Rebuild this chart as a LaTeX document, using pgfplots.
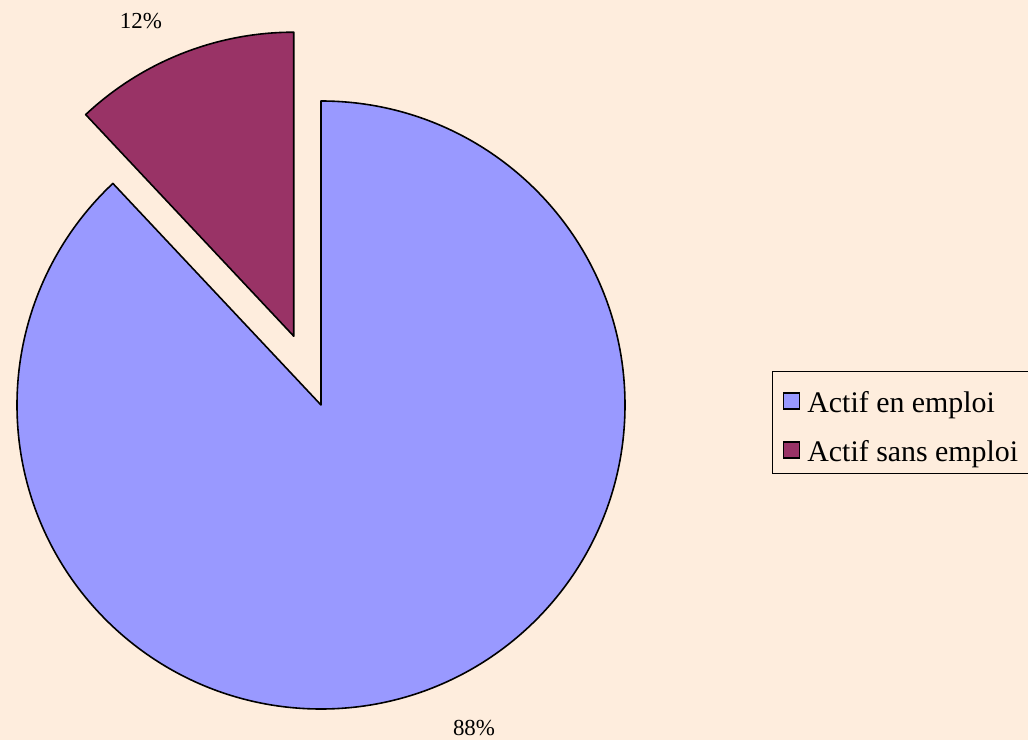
\documentclass[border=0pt]{standalone}
\usepackage{pgfplots}
\usepackage{pgfplotstable}
\pgfplotsset{compat=1.18}
\usepackage{fontspec}
\setmainfont{Liberation Serif}
\definecolor{bgcol}{RGB}{254,237,221}
\definecolor{slicea}{RGB}{153,153,255}
\definecolor{sliceb}{RGB}{153,51,102}
\pgfplotstableread{
label value
{Actif en emploi} 88
{Actif sans emploi} 12
}\piedata
\begin{document}
\begin{tikzpicture}
\pgfplotstablegetelem{0}{value}\of\piedata \let\va\pgfplotsretval
\pgfplotstablegetelem{1}{value}\of\piedata \let\vb\pgfplotsretval
\pgfmathsetmacro{\tot}{\va+\vb}
\pgfmathsetmacro{\anga}{\va/\tot*360}
\pgfmathsetmacro{\angb}{\vb/\tot*360}
\pgfmathsetmacro{\enda}{90-\anga}
\pgfmathsetmacro{\endb}{90+\angb}
\pgfmathsetmacro{\midb}{90+\angb/2}
\fill[bgcol] (0,0) rectangle (1028bp,740bp);
\begin{axis}[
  at={(0,0)}, anchor=origin,
  x=1bp, y=1bp, scale only axis,
  xmin=0, xmax=1028, ymin=0, ymax=740,
  hide axis, clip=false,
  legend style={at={(axis cs:772,266)}, anchor=south west, draw=black, line width=1.2pt,
    fill=bgcol, font=\fontsize{30}{34}\selectfont, inner xsep=10bp, inner ysep=4bp,
    nodes={inner ysep=0pt, inner xsep=3bp, text height=37bp, text depth=8bp},
    row sep=4bp, /tikz/every odd column/.append style={column sep=4bp}},
  legend cell align=left,
  legend image code/.code={\draw[#1, line width=1.8pt] (0bp,-11bp) rectangle (16bp,5bp);},
]
\addlegendimage{fill=slicea, draw=black}
\addlegendentry{Actif en emploi}
\addlegendimage{fill=sliceb, draw=black}
\addlegendentry{Actif sans emploi}
% main slice
\draw[fill=slicea, line width=1.6pt, line join=round] (axis cs:321,335) -- ++(90:304bp)
  arc[start angle=90, end angle=\enda, radius=304bp] -- cycle;
% exploded slice
\draw[fill=sliceb, line width=1.6pt, line join=round] (axis cs:321,335) ++(\midb:74bp) coordinate (cb)
  -- ++(90:304bp) arc[start angle=90, end angle=\endb, radius=304bp] -- cycle;
\node[font=\fontsize{23}{26}\selectfont] at (axis cs:141,719) {\vb\%};
\node[font=\fontsize{23}{26}\selectfont] at (axis cs:474,12) {\va\%};
\end{axis}
\pgfresetboundingbox
\useasboundingbox (0,0) rectangle (1028bp,740bp);
\end{tikzpicture}
\end{document}
